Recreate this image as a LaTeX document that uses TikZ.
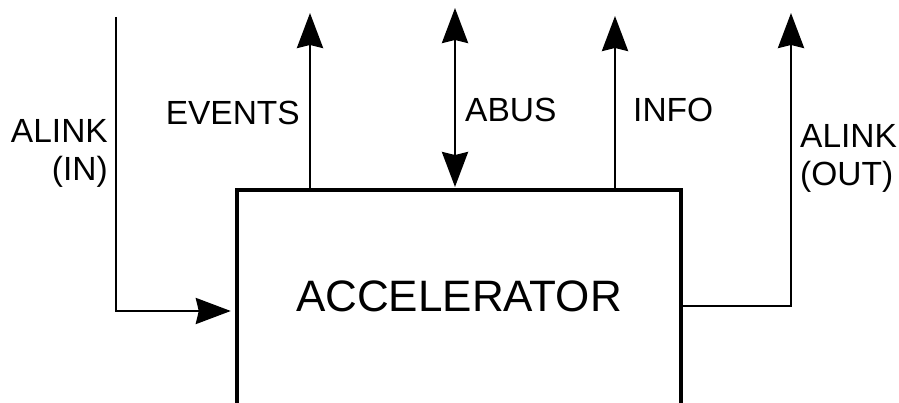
\documentclass[tikz,border=0pt]{standalone}
\usepackage{fontspec}
\setmainfont{Liberation Sans}
\usetikzlibrary{arrows.meta, positioning}
\tikzstyle{block} = [rectangle, minimum width=444pt, minimum height=213pt, inner sep=0pt, font=\fontsize{44}{50}\selectfont]
\tikzstyle{lbl}   = [inner sep=0pt, font=\fontsize{33.5}{38}\selectfont]
\tikzstyle{arrow} = [-{Stealth[length=35pt, width=26pt, inset=3pt]}, line width=2.8pt]
\tikzstyle{wall}  = [line width=4.5pt]

\begin{document}
\begin{tikzpicture}[x=1pt, y=-1pt]
    \useasboundingbox (0,0) rectangle (899,403);

    \node (acc) [block] at (459,296.5) {ACCELERATOR};
    \draw [wall] (acc.south west) |- (acc.north east) -- (acc.south east);

    \coordinate (ain) at (116,17);
    \coordinate (evtip) at (310,13);
    \coordinate (abtop) at (455,8);
    \coordinate (abbot) at (455,187);
    \coordinate (inftip) at (615,16);
    \coordinate (aotip) at (791,13);

    \draw [arrow] (ain) |- ([xshift=-6pt, yshift=-14.5pt]acc.west);
    \draw [arrow] (evtip |- acc.north) -- (evtip);
    \draw [arrow, {Stealth[length=35pt, width=26pt, inset=3pt]}-{Stealth[length=35pt, width=26pt, inset=3pt]}] (abbot) -- (abtop);
    \draw [arrow] (inftip |- acc.north) -- (inftip);
    \draw [arrow] ([yshift=-9.5pt]acc.east) -| (aotip);

    \node (lin) [lbl, align=right, anchor=east] at (108,153) {ALINK\\(IN)};
    \node (lev) [lbl, anchor=east] at (300,113) {EVENTS};
    \node (lab) [lbl, anchor=west] at (465,110) {ABUS};
    \node (linf) [lbl, anchor=west] at (633,110) {INFO};
    \node (lout) [lbl, align=left, anchor=west] at (800,158) {ALINK\\(OUT)};
\end{tikzpicture}
\end{document}
